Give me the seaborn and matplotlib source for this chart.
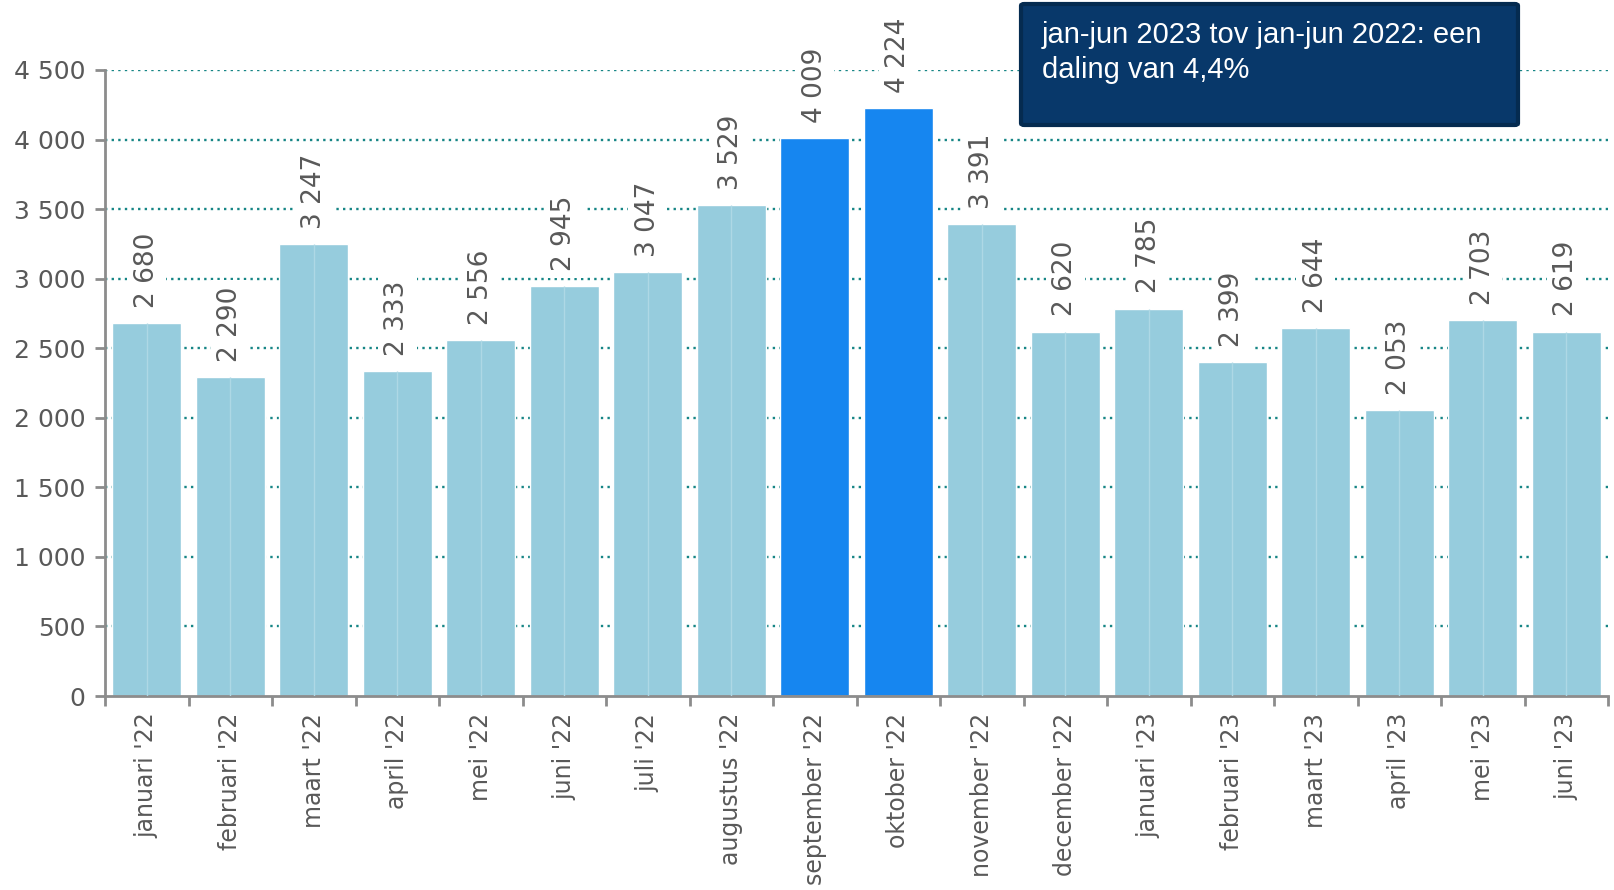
import numpy as np
import pandas as pd
import matplotlib
matplotlib.use("Agg")
import matplotlib.pyplot as plt
import seaborn as sns
from matplotlib.patches import FancyBboxPatch

# data
months = ["januari '22", "februari '22", "maart '22", "april '22", "mei '22", "juni '22",
          "juli '22", "augustus '22", "september '22", "oktober '22", "november '22",
          "december '22", "januari '23", "februari '23", "maart '23", "april '23",
          "mei '23", "juni '23"]
values = [2680, 2290, 3247, 2333, 2556, 2945, 3047, 3529, 4009, 4224, 3391,
          2620, 2785, 2399, 2644, 2053, 2703, 2619]
highlight = ["september '22", "oktober '22"]
note = "jan-jun 2023 tov jan-jun 2022: een\ndaling van 4,4%"

light = "#96CCDD"
strong = "#1686F0"
grey = "#595959"

df = pd.DataFrame({"maand": months, "aantal": values})
palette = {m: (strong if m in highlight else light) for m in months}

sns.set_style("white")
plt.rcParams["font.family"] = ["DejaVu Sans"]

fig = plt.figure(figsize=(16.14, 8.90), dpi=100)
ax = fig.add_axes([105 / 1614, 1 - 696 / 890, 1503 / 1614, 626 / 890])

sns.barplot(data=df, x="maand", y="aantal", hue="maand", palette=palette,
            legend=False, width=0.83, saturation=1, ax=ax, zorder=2)

# faint center line on the light bars
for i, (m, v) in enumerate(zip(months, values)):
    if m not in highlight:
        ax.vlines(i, 0, v, color="#AED8E5", lw=1, zorder=3)

ax.set_xlim(-0.5, len(months) - 0.5)
ax.set_ylim(0, 4500)
ax.set_yticks(np.arange(0, 4501, 500))
ax.set_yticklabels([f"{t:,}".replace(",", " ") for t in range(0, 4501, 500)],
                   fontsize=18, color=grey)
ax.set_xticks(range(len(months)))
ax.set_xticklabels(months, rotation=90, fontsize=17, color=grey)
ax.set_xticks(np.arange(-0.5, len(months), 1), minor=True)
ax.tick_params(axis="x", which="major", bottom=True, length=0, pad=12)
ax.tick_params(axis="x", which="minor", bottom=True, length=7, width=2,
               color="#8C8C8C", direction="out")
ax.tick_params(axis="y", left=True, length=7, width=2, color="#8C8C8C",
               direction="out", pad=7)
ax.set_xlabel("")
ax.set_ylabel("")

for s in ["top", "right"]:
    ax.spines[s].set_visible(False)
for s in ["left", "bottom"]:
    ax.spines[s].set_color("#8C8C8C")
    ax.spines[s].set_linewidth(2)

for y in range(500, 4501, 500):
    ax.axhline(y, color="#168585", lw=1.7, ls=(0, (1, 1.8)), zorder=1)

for i, v in enumerate(values):
    ax.annotate(f"{v:,}".replace(",", " "), (i, v), xytext=(0, 11),
                textcoords="offset points", rotation=90, ha="center", va="bottom",
                fontsize=19, color=grey, annotation_clip=False, zorder=4,
                bbox=dict(boxstyle="square,pad=0.25", fc="white", ec="none"))

box = FancyBboxPatch((1021 / 1614, 1 - 125 / 890), 497 / 1614, 121 / 890,
                     boxstyle="round,pad=0,rounding_size=0.002",
                     transform=fig.transFigure, fc="#08386A", ec="#052B50", lw=3)
fig.patches.append(box)
fig.text(1042 / 1614, 1 - 21 / 890, note, fontsize=21, color="white",
         family=["Liberation Sans"], va="top", ha="left", linespacing=1.3)

fig.savefig("out.png", dpi=100)
